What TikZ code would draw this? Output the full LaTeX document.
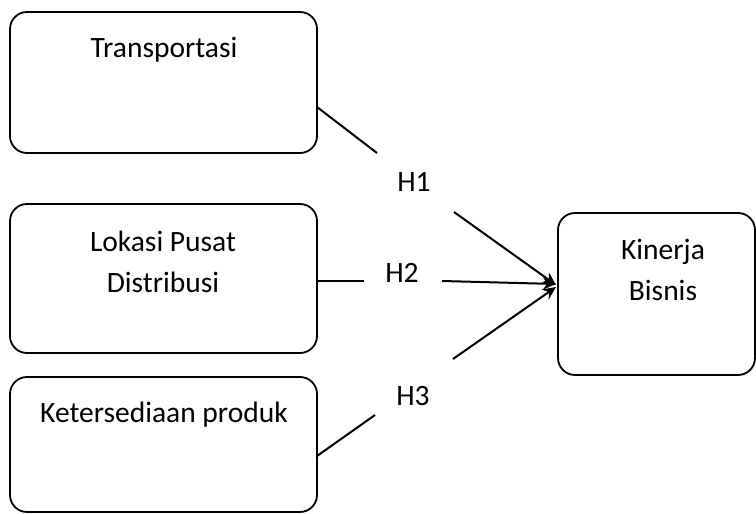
\documentclass[tikz,border=0pt]{standalone}
\usepackage{fontspec}
\setmainfont{Carlito}
\usetikzlibrary{arrows.meta}
\begin{document}
\begin{tikzpicture}[x=1pt,y=-1pt,
  box/.style={draw, line width=1.8pt, rounded corners=17pt, inner sep=0pt, outer sep=0pt},
  lbl/.style={font=\fontsize{29.5}{40.5}\selectfont, align=center, inner sep=0pt, anchor=base},
  conn/.style={line width=2pt},
  arr/.style={conn, -{Stealth[length=13pt,width=12pt]}}]
\useasboundingbox (0,0) rectangle (756,514);
% boxes
\node[box, minimum width=307pt, minimum height=141pt] (b1) at (163.5,82.5) {};
\node[box, minimum width=307pt, minimum height=149pt] (b2) at (163.5,278.5) {};
\node[box, minimum width=307pt, minimum height=135pt] (b3) at (163.5,444.5) {};
\node[box, minimum width=197pt, minimum height=162pt] (b4) at (656.5,294) {};
% texts
\node[lbl] (t1) at (164,57) {Transportasi};
\node[lbl] (t2) at (163,292) {Lokasi Pusat\\Distribusi};
\node[lbl] (t3) at (164,422) {Ketersediaan produk};
\node[lbl] (t4) at (663,300) {Kinerja\\Bisnis};
\node[lbl] (h1) at (414,191) {H1};
\node[lbl] (h2) at (402,282) {H2};
\node[lbl] (h3) at (413,405) {H3};
% connector points
\coordinate (s1) at (317,107);
\coordinate (e1) at (377,153);
\coordinate (f1) at (454,212);
\coordinate (s2) at (317,281);
\coordinate (e2) at (364,281);
\coordinate (f2) at (442,281);
\coordinate (s3) at (317,456);
\coordinate (e3) at (375,415);
\coordinate (f3) at (453,359);
\coordinate (tip1) at (556,285);
\coordinate (tip2) at (556,284);
\coordinate (tip3) at (556,287);
% connectors
\draw[conn] (s1) -- (e1);
\draw[arr] (f1) -- (tip1);
\draw[conn] (s2) -- (e2);
\draw[arr] (f2) -- (tip2);
\draw[conn] (s3) -- (e3);
\draw[arr] (f3) -- (tip3);
\end{tikzpicture}
\end{document}
